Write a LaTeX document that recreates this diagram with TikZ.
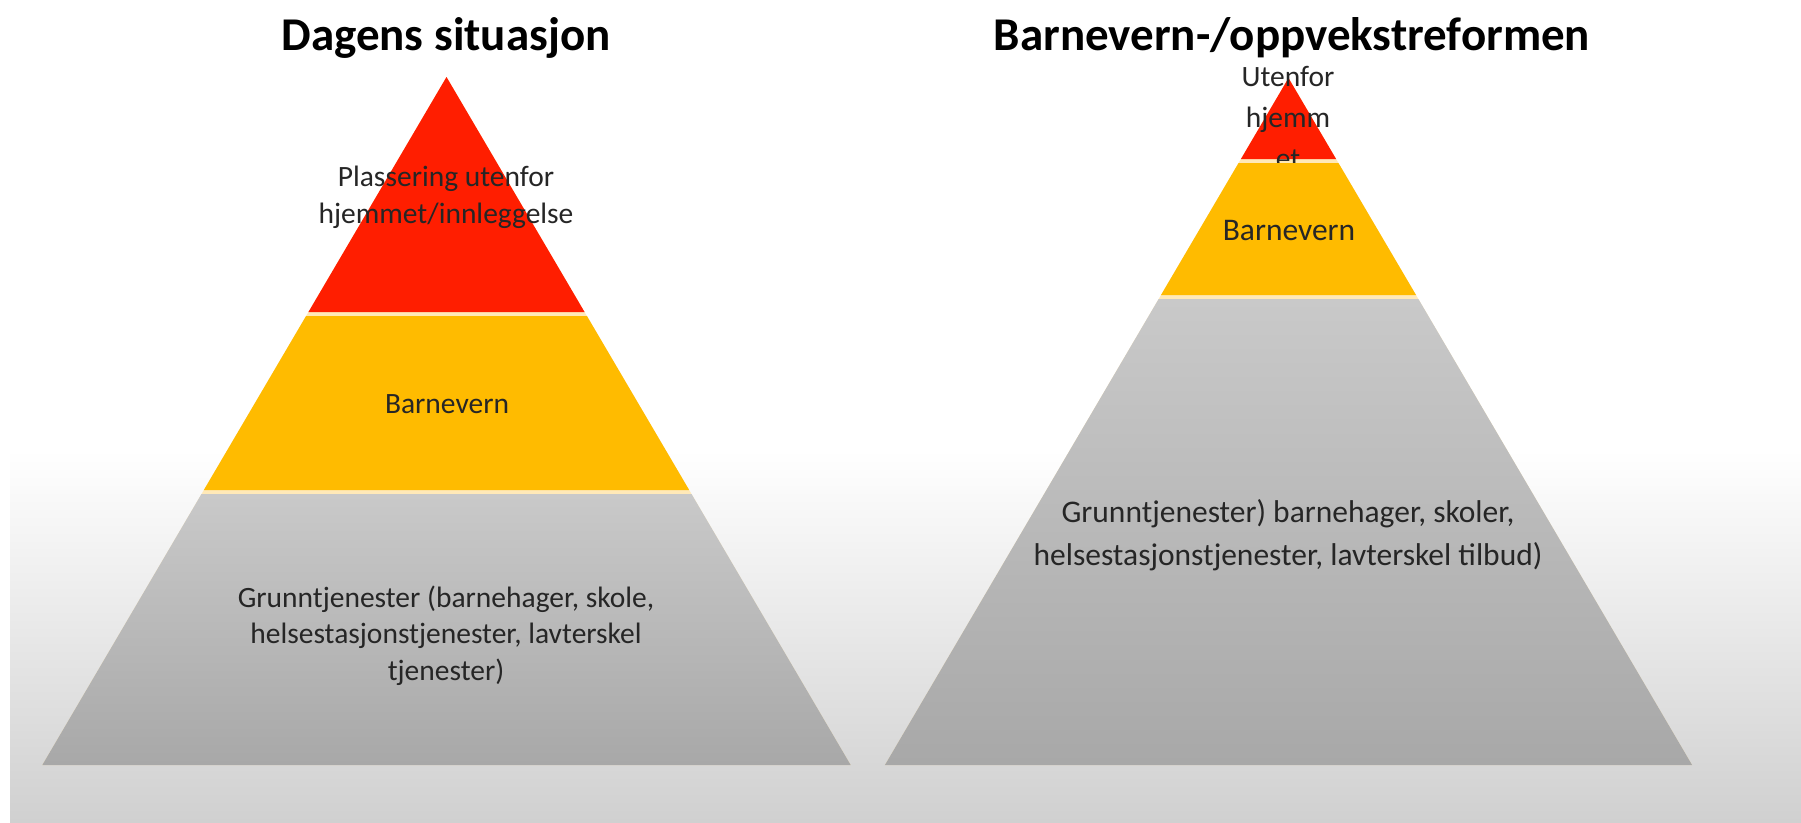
\documentclass[tikz,border=0pt]{standalone}
\usepackage{fontspec}
\setmainfont{Carlito}
\definecolor{pyrred}{HTML}{FF1E00}
\definecolor{pyryel}{HTML}{FFBB00}
\definecolor{pyrsep}{HTML}{FFE9B8}
\definecolor{txtdark}{HTML}{262626}
\definecolor{bgbot}{HTML}{D0D0D0}
\definecolor{graytop}{HTML}{C9C9C9}
\definecolor{graybot}{HTML}{A8A8A8}
\tikzset{
  titletext/.style={anchor=base, font=\fontsize{47}{56}\selectfont\bfseries, text=black, inner sep=0pt},
  bodytext/.style={anchor=base, align=center, font=\fontsize{29.5}{36.5}\selectfont, text=txtdark, inner sep=0pt},
  toptext/.style={anchor=base, align=center, font=\fontsize{29.5}{41}\selectfont, text=txtdark, inner sep=0pt},
  bodybig/.style={anchor=base, align=center, font=\fontsize{31.5}{43}\selectfont, text=txtdark, inner sep=0pt},
}
% band: center x, top y, bottom y, apex y, style
\newcommand{\pyrband}[5]{%
  \path[#5] ({#1-0.5875*(#2-#4)},#2) -- ({#1+0.5875*(#2-#4)},#2) -- ({#1+0.5875*(#3-#4)},#3) -- ({#1-0.5875*(#3-#4)},#3) -- cycle;}
\begin{document}
\begin{tikzpicture}[x=1pt,y=-1pt]
\useasboundingbox (0,0) rectangle (1801,822);
% background
\fill[white] (0,0) rectangle (1801,822);
\shade[top color=white, bottom color=bgbot] (10,450) rectangle (1801,822);

% ---------- left pyramid ----------
\fill[pyrsep] (446.5,77) -- ({446.5+0.5875*688},765) -- ({446.5-0.5875*688},765) -- cycle;
\pyrband{446.5}{77}{312}{77}{fill=pyrred}
\pyrband{446.5}{316}{490}{77}{fill=pyryel}
\pyrband{446.5}{494}{765}{77}{top color=graytop, bottom color=graybot}

\node[titletext] (t1) at (446,50) {Dagens situasjon};
% multi-line nodes: base anchor is the baseline of the last line
\node[bodytext] (l1) at (446,223) {Plassering utenfor\\hjemmet/innleggelse};
\node[bodytext] (l2) at (447,413) {Barnevern};
\node[bodytext] (l3) at (446,680) {Grunntjenester (barnehager, skole,\\helsestasjonstjenester, lavterskel\\tjenester)};

% ---------- right pyramid ----------
\fill[pyrsep] (1288.5,78) -- ({1288.5+0.5875*687},765) -- ({1288.5-0.5875*687},765) -- cycle;
\pyrband{1288.5}{78}{159}{78}{fill=pyrred}
\node[toptext] (r1) at (1288,168) {Utenfor\\hjemm\\et};
\pyrband{1288.5}{163}{295}{78}{fill=pyryel}
\pyrband{1288.5}{299}{765}{78}{top color=graytop, bottom color=graybot}

\node[titletext] (t2) at (1292,50) {Barnevern-/oppvekstreformen};
\node[bodybig] (r2) at (1289,240) {Barnevern};
\node[bodybig] (r3) at (1288,565) {Grunntjenester) barnehager, skoler,\\helsestasjonstjenester, lavterskel tilbud)};
\end{tikzpicture}
\end{document}
